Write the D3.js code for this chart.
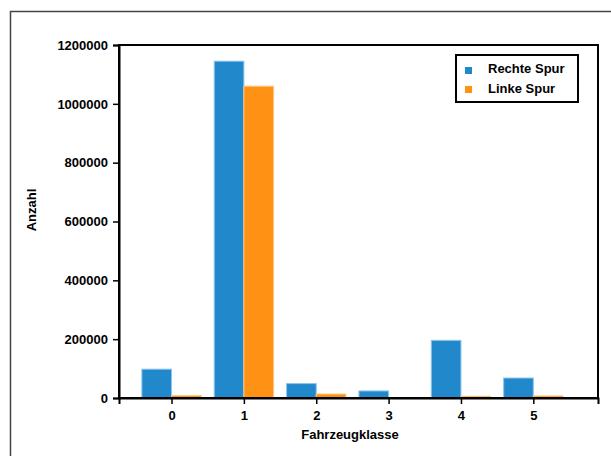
<!DOCTYPE html>
<html>
<head>
<meta charset="utf-8">
<script src="https://cdn.jsdelivr.net/npm/d3@7"></script>
<style>
html,body{margin:0;padding:0;background:#fff;}
svg{display:block;}
text{font-family:"Liberation Sans",Arial,sans-serif;font-weight:bold;fill:#000;}
</style>
</head>
<body>
<svg id="chart" width="611" height="456"></svg>
<script>
const categories = [0, 1, 2, 3, 4, 5];
const rechteSpur = [98000, 1145000, 49000, 24000, 196000, 68000];
const linkeSpur = [8000, 1060000, 13500, 0, 6000, 7000];
const yTicks = [0, 200000, 400000, 600000, 800000, 1000000, 1200000];
const seriesNames = ["Rechte Spur", "Linke Spur"];
const colors = ["#2288cc", "#ff9214"];
const strokes = ["#8cc6ee", "#ffc878"];

const svg = d3.select("#chart");
const L = 119, R = 598, T = 45, B = 398;

// outer frame
svg.append("rect").attr("x", 10.5).attr("y", 11.5).attr("width", 800).attr("height", 600)
  .attr("fill", "none").attr("stroke", "#444").attr("stroke-width", 1.5);

const x = d3.scaleLinear().domain([-0.726, 5.894]).range([L, R]);
const y = d3.scaleLinear().domain([0, 1200000]).range([B, T]);
const bw = 0.41;

const series = [rechteSpur, linkeSpur];
series.forEach((vals, si) => {
  svg.append("g").selectAll("rect").data(categories).join("rect")
    .attr("x", d => si === 0 ? x(d - bw) : x(d))
    .attr("width", d => x(bw) - x(0))
    .attr("y", (d, i) => y(vals[i]))
    .attr("height", (d, i) => B - y(vals[i]))
    .attr("fill", colors[si])
    .attr("stroke", strokes[si]).attr("stroke-width", 1);
});

// frame of plot
svg.append("rect").attr("x", L).attr("y", T).attr("width", R - L).attr("height", B - T)
  .attr("fill", "none").attr("stroke", "#000").attr("stroke-width", 2);

const yAxis = svg.append("g").attr("transform", `translate(${L},0)`)
  .call(d3.axisLeft(y).tickValues(yTicks).tickFormat(d3.format("d")).tickSize(6).tickPadding(5));
const xAxis = svg.append("g").attr("transform", `translate(0,${B})`)
  .call(d3.axisBottom(x).tickValues(categories).tickFormat(d3.format("d")).tickSize(6).tickPadding(7));
[yAxis, xAxis].forEach(a => {
  a.select(".domain").attr("stroke", "#000").attr("stroke-width", 2);
  a.selectAll(".tick line").attr("stroke", "#000").attr("stroke-width", 1.5);
  a.selectAll(".tick text").attr("font-size", 13).attr("font-family", "Liberation Sans, Arial, sans-serif").attr("font-weight", "bold").attr("fill", "#000");
});

svg.append("text").attr("x", 350).attr("y", 439).attr("text-anchor", "middle")
  .attr("font-size", 13).text("Fahrzeugklasse");
svg.append("text").attr("transform", "translate(36,210) rotate(-90)").attr("text-anchor", "middle")
  .attr("font-size", 13).text("Anzahl");

// legend
const lg = svg.append("g");
lg.append("rect").attr("x", 456).attr("y", 55).attr("width", 122).attr("height", 47)
  .attr("fill", "#fff").attr("stroke", "#000").attr("stroke-width", 2);
seriesNames.forEach((n, i) => {
  lg.append("rect").attr("x", 465).attr("y", 67 + i * 19).attr("width", 7).attr("height", 7).attr("fill", colors[i]);
  lg.append("text").attr("x", 488).attr("y", 73 + i * 20).attr("font-size", 13).text(n);
});
</script>
</body>
</html>
